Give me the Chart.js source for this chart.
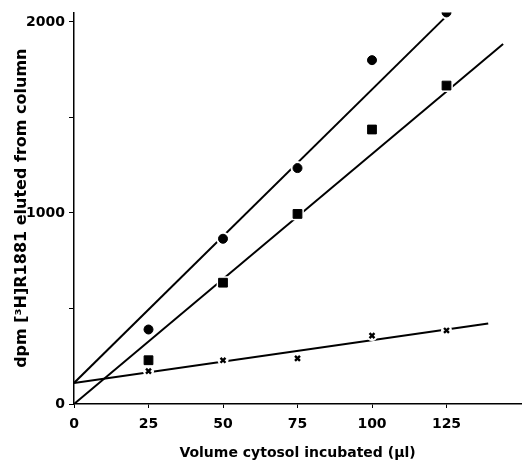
<!DOCTYPE html>
<html lang="en">
<head>
<meta charset="UTF-8">
<title>dpm eluted vs volume cytosol</title>
<script src="https://cdn.jsdelivr.net/npm/chart.js@4.4.1/dist/chart.umd.min.js"></script>
<style>
    html, body { margin: 0; padding: 0; background: #fff; }
    #wrap { width: 530px; height: 462px; }
</style>
</head>
<body>
<div id="wrap"><canvas id="chart" width="530" height="462"></canvas></div>
<script>
    // volumes (µl)
    var volumes = [25, 50, 75, 100, 125];
    // measured dpm
    var circleVals = [390, 865, 1235, 1800, 2050];
    var squareVals = [229, 635, 995, 1437, 1667];
    var crossVals = [172, 229, 239, 358, 385];
    // fitted lines: [x, y] at both ends
    var circleFit = [[0, 110], [124.3, 2020]];
    var squareFit = [[0, 0], [144, 1885]];
    var crossFit = [[0, 110], [139, 422]];

    // tick positions and which of them carry a label
    var yTicks = [0, 500, 1000, 1500, 2000];
    var yTickLabels = [0, 1000, 2000];
    var xTicks = [0, 25, 50, 75, 100, 125];
    var xTickLabels = [0, 25, 50, 75, 100, 125];

    function pts(xs, ys) {
        return xs.map(function (x, i) { return { x: x, y: ys[i] }; });
    }
    function fitPts(f) {
        return f.map(function (p) { return { x: p[0], y: p[1] }; });
    }

    var font = "'DejaVu Sans', sans-serif";

    function marker(data, style, r, order) {
        return {
            type: 'scatter', data: data, order: order,
            pointStyle: style, pointRadius: r, pointHoverRadius: r,
            backgroundColor: '#000', borderColor: '#000', borderWidth: style === 'crossRot' ? 2.4 : 1
        };
    }
    function halo(data, style, r, order) {
        return {
            type: 'scatter', data: data, order: order,
            pointStyle: style, pointRadius: r, pointHoverRadius: r,
            backgroundColor: '#fff', borderColor: '#fff', borderWidth: 0
        };
    }
    function fitLine(data, order) {
        return {
            type: 'line', data: data, order: order,
            borderColor: '#000', borderWidth: 2, pointRadius: 0, fill: false, tension: 0
        };
    }

    new Chart(document.getElementById('chart'), {
        type: 'scatter',
        data: {
            datasets: [
                marker(pts(volumes, circleVals), 'circle', 4.5, 1),
                marker(pts(volumes, squareVals), 'rect', 6.2, 1),
                marker(pts(volumes, crossVals), 'crossRot', 3.5, 1),
                halo(pts(volumes, circleVals), 'circle', 7, 2),
                halo(pts(volumes, squareVals), 'rect', 9, 2),
                halo(pts(volumes, crossVals), 'circle', 5.5, 2),
                fitLine(fitPts(circleFit), 3),
                fitLine(fitPts(squareFit), 3),
                fitLine(fitPts(crossFit), 3)
            ]
        },
        options: {
            responsive: false,
            animation: false,
            layout: { padding: { top: 9, right: 6, left: 0, bottom: 0 } },
            plugins: { legend: { display: false }, tooltip: { enabled: false } },
            scales: {
                x: {
                    type: 'linear', min: 0, max: 150,
                    afterBuildTicks: function (s) {
                        s.ticks = xTicks.map(function (v) { return { value: v }; });
                    },
                    afterFit: function (s) { s.height = 58; },
                    ticks: {
                        color: '#000', padding: 8, maxRotation: 0, autoSkip: false,
                        font: { family: font, size: 14, weight: 'bold' },
                        callback: function (v) { return xTickLabels.indexOf(v) >= 0 ? String(v) : ''; }
                    },
                    grid: { display: true, drawOnChartArea: false, drawTicks: true, tickLength: 4, color: '#000', lineWidth: 1 },
                    border: { display: true, color: '#000', width: 1.5 },
                    title: {
                        display: true, text: 'Volume cytosol incubated (µl)', color: '#000',
                        font: { family: font, size: 14, weight: 'bold' }, padding: { top: 1, bottom: 0 }
                    }
                },
                y: {
                    type: 'linear', min: 0, max: 2050,
                    afterBuildTicks: function (s) {
                        s.ticks = yTicks.map(function (v) { return { value: v }; });
                    },
                    afterFit: function (s) { s.width = 74; },
                    ticks: {
                        color: '#000', padding: 4, autoSkip: false,
                        font: { family: font, size: 14, weight: 'bold' },
                        callback: function (v) { return yTickLabels.indexOf(v) >= 0 ? String(v) : ''; }
                    },
                    grid: { display: true, drawOnChartArea: false, drawTicks: true, tickLength: 5, color: '#000', lineWidth: 1 },
                    border: { display: true, color: '#000', width: 1.5 },
                    title: {
                        display: true, text: 'dpm [³H]R1881 eluted from column', color: '#000',
                        font: { family: font, size: 16, weight: 'bold' }, padding: { top: 12, bottom: 0 }
                    }
                }
            }
        }
    });
</script>
</body>
</html>
